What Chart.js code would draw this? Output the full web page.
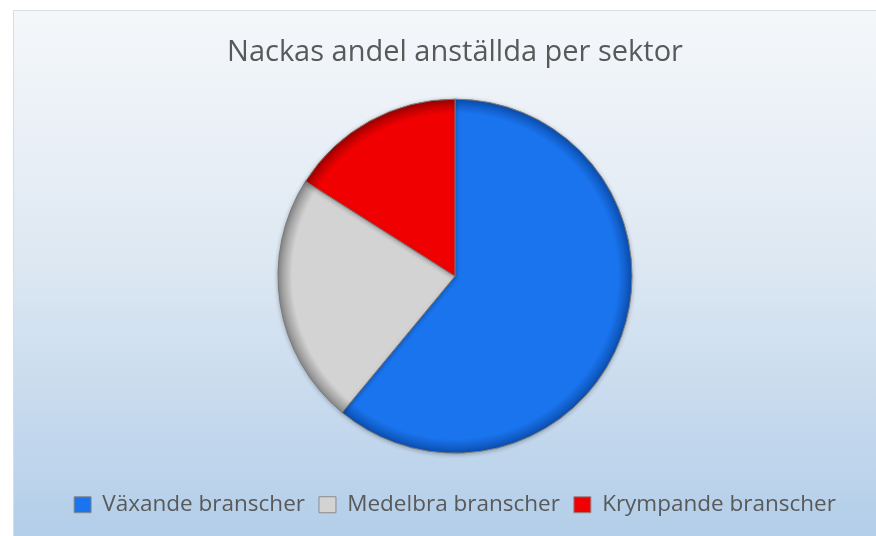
<!DOCTYPE html>
<html>
<head>
<meta charset="utf-8">
<script src="https://cdn.jsdelivr.net/npm/chart.js@4"></script>
<style>
  html, body { margin: 0; padding: 0; background: #fff; }
  #wrap { width: 876px; height: 536px; }
</style>
</head>
<body>
<div id="wrap"><canvas id="grafico"></canvas></div>
<script>
const sektorer = ["Växande branscher", "Medelbra branscher", "Krympande branscher"];
const andelar = [61, 23, 16];
const farger = ["#1a74ee", "#d3d3d3", "#f00000"];
const kanter = ["#0b4fb0", "#8a8a8a", "#a00000"];

// gradient background behind the whole chart, with a white margin top/left
const bakgrund = {
    id: "bakgrund",
    beforeDraw(chart) {
        const ctx = chart.ctx;
        ctx.save();
        ctx.fillStyle = "#ffffff";
        ctx.fillRect(0, 0, chart.width, chart.height);
        const g = ctx.createLinearGradient(0, 10, 0, chart.height);
        g.addColorStop(0, "#f5f7fa");
        g.addColorStop(0.45, "#dfe9f3");
        g.addColorStop(1, "#b3cee9");
        ctx.fillStyle = g;
        ctx.fillRect(13, 10, chart.width - 13, chart.height - 10);
        ctx.strokeStyle = "#d8dde3";
        ctx.lineWidth = 1;
        ctx.beginPath();
        ctx.moveTo(13.5, chart.height);
        ctx.lineTo(13.5, 10.5);
        ctx.lineTo(chart.width, 10.5);
        ctx.stroke();
        ctx.restore();
    }
};

// soft shadow under the slices
const skugga = {
    id: "skugga",
    beforeDatasetsDraw(chart) {
        const ctx = chart.ctx;
        ctx.save();
        ctx.shadowColor = "rgba(0,0,0,0.25)";
        ctx.shadowBlur = 4;
        ctx.shadowOffsetY = 1;
    },
    afterDatasetsDraw(chart) {
        chart.ctx.restore();
    }
};

function tarta(ctx) {
    const chart = ctx.chart;
    const a = chart.chartArea;
    if (!a) return farger[ctx.dataIndex];
    const cx = (a.left + a.right) / 2;
    const cy = (a.top + a.bottom) / 2;
    const g = chart.ctx.createRadialGradient(cx, cy, 0, cx, cy, 177);
    g.addColorStop(0, farger[ctx.dataIndex]);
    g.addColorStop(0.92, farger[ctx.dataIndex]);
    g.addColorStop(1, kanter[ctx.dataIndex]);
    return g;
}

new Chart(document.getElementById("grafico"), {
    type: "pie",
    data: {
        labels: sektorer,
        datasets: [{
            data: andelar,
            backgroundColor: tarta,
            borderColor: "#7a7a7a",
            borderWidth: 1,
            radius: 177,
            hoverOffset: 0
        }]
    },
    options: {
        responsive: true,
        maintainAspectRatio: false,
        animation: false,
        layout: {
            padding: { left: 34, top: 10, right: 0, bottom: 10 }
        },
        plugins: {
            title: {
                display: true,
                text: "Nackas andel anställda per sektor",
                color: "#595959",
                font: { family: "'Open Sans', sans-serif", size: 29, weight: "normal" },
                padding: { top: 25, bottom: 3 }
            },
            legend: {
                position: "bottom",
                labels: {
                    color: "#595959",
                    font: { family: "'Open Sans', sans-serif", size: 22.5 },
                    boxWidth: 17,
                    boxHeight: 16,
                    padding: 14,
                    generateLabels(chart) {
                        return sektorer.map((s, i) => ({
                            text: s,
                            fillStyle: farger[i],
                            strokeStyle: "#8a8a8a",
                            lineWidth: 1,
                            fontColor: "#595959",
                            index: i,
                            hidden: false
                        }));
                    }
                }
            },
            tooltip: { enabled: false }
        }
    },
    plugins: [bakgrund, skugga]
});
</script>
</body>
</html>
